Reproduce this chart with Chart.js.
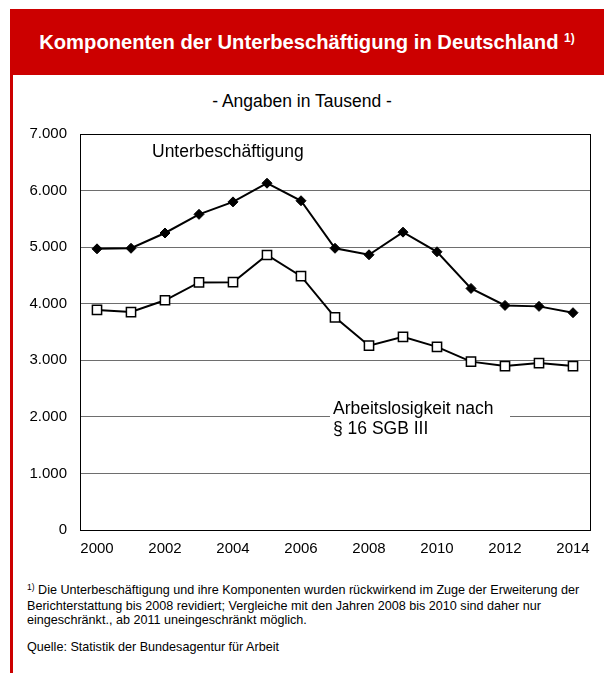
<!DOCTYPE html>
<html>
<head>
<meta charset="utf-8">
<script src="https://cdn.jsdelivr.net/npm/chart.js@4/dist/chart.umd.min.js"></script>
<style>
  body { margin: 0; width: 604px; height: 673px; background: #fff; font-family: "Liberation Sans", Arial, sans-serif; position: relative; overflow: hidden; }
  #frame { position: absolute; left: 10px; top: 9px; width: 3px; height: 664px; background: #cc0000; }
  #head { position: absolute; left: 10px; top: 9px; width: 594px; height: 66px; background: #cc0000; color: #fff; font-weight: bold; font-size: 20.2px; text-align: center; line-height: 66px; }
  #head sup { font-size: 12px; vertical-align: 0; position: relative; top: -7px; }
  #sub { position: absolute; left: 0; width: 604px; top: 91px; text-align: center; font-size: 17.5px; color: #000; }
  #wrap { position: absolute; left: 0; top: 80px; width: 604px; height: 485px; }
  .lbl { position: absolute; font-size: 17.5px; color: #000; line-height: 19.5px; }
  #lbl2 { background: #fff; padding: 0 3px; }
  #note { position: absolute; left: 27px; top: 583px; font-size: 12.6px; line-height: 14.5px; color: #000; width: 566px; }
  #note sup { font-size: 8.5px; vertical-align: 0; position: relative; top: -4px; }
  #src { position: absolute; left: 27px; top: 640px; font-size: 12.6px; color: #000; }
</style>
</head>
<body>
<div id="head">Komponenten der Unterbeschäftigung in Deutschland <sup>1)</sup></div>
<div id="frame"></div>
<div id="sub">- Angaben in Tausend -</div>
<div id="wrap"><canvas id="chart" width="604" height="485"></canvas></div>
<div class="lbl" style="left:152px; top:142px;">Unterbeschäftigung</div>
<div class="lbl" id="lbl2" style="left:330px; top:399px; width:174px;">Arbeitslosigkeit nach<br>§ 16 SGB III</div>
<div id="note"><sup>1)</sup> Die Unterbeschäftigung und ihre Komponenten wurden rückwirkend im Zuge der Erweiterung der Berichterstattung bis 2008 revidiert; Vergleiche mit den Jahren 2008 bis 2010 sind daher nur eingeschränkt., ab 2011 uneingeschränkt möglich.</div>
<div id="src">Quelle: Statistik der Bundesagentur für Arbeit</div>
<script>
const years = ['2000', '2001', '2002', '2003', '2004', '2005', '2006', '2007', '2008', '2009', '2010', '2011', '2012', '2013', '2014'];
const unterbeschaeftigung = [4970, 4980, 5250, 5580, 5800, 6130, 5820, 4980, 4865, 5265, 4918, 4270, 3970, 3953, 3841];
const arbeitslosigkeit = [3890, 3853, 4061, 4377, 4381, 4861, 4487, 3760, 3258, 3415, 3238, 2976, 2897, 2950, 2898];
const yTicks = [0, 1000, 2000, 3000, 4000, 5000, 6000, 7000];

const frameBox = {
    id: 'frameBox',
    afterDraw(chart) {
        const a = chart.chartArea;
        const c = chart.ctx;
        c.save();
        c.strokeStyle = '#000';
        c.lineWidth = 1;
        c.strokeRect(Math.round(a.left) + 0.5, Math.round(a.top) + 0.5, Math.round(a.right - a.left), Math.round(a.bottom - a.top));
        c.restore();
    }
};

const ctx = document.getElementById('chart');
new Chart(ctx, {
    type: 'line',
    data: {
        labels: years,
        datasets: [{
            label: 'Unterbeschäftigung',
            data: unterbeschaeftigung,
            borderColor: '#000',
            borderWidth: 2,
            backgroundColor: '#000',
            pointStyle: 'rectRot',
            pointRadius: 5,
            pointBorderWidth: 1,
            tension: 0
        }, {
            label: 'Arbeitslosigkeit nach § 16 SGB III',
            data: arbeitslosigkeit,
            borderColor: '#000',
            borderWidth: 2,
            pointBackgroundColor: '#fff',
            pointBorderColor: '#000',
            pointStyle: 'rect',
            pointRadius: 6.5,
            pointBorderWidth: 1.5,
            tension: 0
        }]
    },
    options: {
        responsive: false,
        animation: false,
        layout: { padding: { left: 0, right: 14, top: 54, bottom: 0 } },
        plugins: {
            legend: { display: false },
            tooltip: { enabled: false }
        },
        scales: {
            x: {
                offset: true,
                grid: { display: false, drawTicks: false },
                border: { color: '#000' },
                ticks: { color: '#000', font: { family: 'Liberation Sans', size: 15 }, padding: 10, maxRotation: 0, autoSkip: false,
                    callback: function (v, i) { return i % 2 === 0 ? years[i] : ''; } },
                afterFit(s) { s.height = 35; }
            },
            y: {
                min: 0,
                max: 7000,
                afterBuildTicks(s) { s.ticks = yTicks.map(v => ({ value: v })); },
                grid: { color: '#6e6e6e', drawTicks: false },
                border: { color: '#000' },
                ticks: { color: '#000', font: { family: 'Liberation Sans', size: 15 }, padding: 13,
                    callback: v => v === 0 ? '0' : v.toLocaleString('de-DE') },
                afterFit(s) { s.width = 80; }
            }
        }
    },
    plugins: [frameBox]
});
</script>
</body>
</html>
